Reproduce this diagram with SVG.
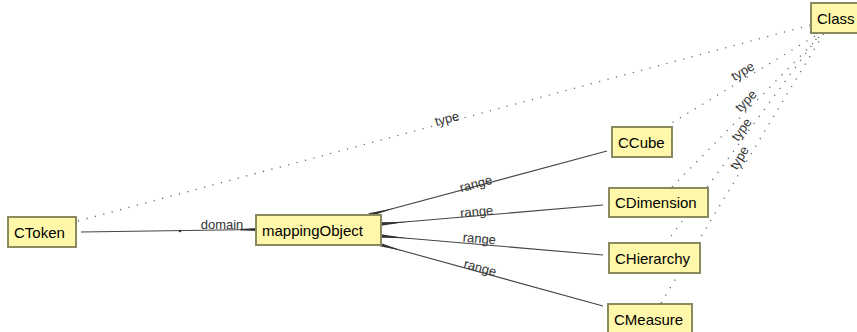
<svg xmlns="http://www.w3.org/2000/svg" width="857" height="332" viewBox="0 0 857 332">
<style>
.node rect{fill:#fff8aa;stroke:#8a8a5e;stroke-width:2}
.node text{font-family:"Liberation Sans",Arial,sans-serif;font-size:15px;fill:#000}
.edge{stroke:#444;stroke-width:1.1;fill:none}
.dot{stroke:#666;stroke-width:1.3;fill:none;stroke-dasharray:1.2 7.5}
.wedge{fill:#333}
.lbl{font-family:"Liberation Sans",Arial,sans-serif;font-size:13px;fill:#333;text-anchor:middle}
</style>
<rect width="857" height="332" fill="#fff"/>
<g id="connectors">
  <line class="dot" x1="78" y1="221" x2="811" y2="25"/>
  <line class="dot" x1="665" y1="127" x2="820" y2="33"/>
  <line class="dot" x1="672" y1="187" x2="823" y2="33"/>
  <line class="dot" x1="666" y1="243" x2="820" y2="34"/>
  <line class="dot" x1="661" y1="303" x2="824" y2="33"/>
  <line class="edge" x1="81" y1="232" x2="256" y2="229.5"/>
  <circle cx="180" cy="231" r="1.3" fill="#333"/>
  <polygon class="wedge" transform="translate(256,229.5) rotate(179.2)" points="0,-1.6 16,-0.6 16,0.6 0,1.6"/>
  <line class="edge" x1="369" y1="215" x2="607" y2="151"/>
  <line class="edge" x1="381" y1="224" x2="603" y2="205"/>
  <line class="edge" x1="381" y1="236" x2="603" y2="255"/>
  <line class="edge" x1="378" y1="244" x2="603" y2="306"/>
  <polygon class="wedge" transform="translate(369,215) rotate(-15.05)" points="0,-1.8 26,0 0,1.8"/>
  <polygon class="wedge" transform="translate(381,224) rotate(-4.9)" points="0,-1.8 26,0 0,1.8"/>
  <polygon class="wedge" transform="translate(381,236) rotate(4.9)" points="0,-1.8 26,0 0,1.8"/>
  <polygon class="wedge" transform="translate(378,244) rotate(15.4)" points="0,-1.8 26,0 0,1.8"/>
  <text class="lbl" x="222" y="229">domain</text>
  <text class="lbl" transform="translate(477,188) rotate(-15)">range</text>
  <text class="lbl" transform="translate(477,216) rotate(-4.9)">range</text>
  <text class="lbl" transform="translate(479,243) rotate(4.9)">range</text>
  <text class="lbl" transform="translate(479,272) rotate(15.4)">range</text>
  <text class="lbl" transform="translate(448,123) rotate(-15)">type</text>
  <text class="lbl" transform="translate(745,75) rotate(-31)">type</text>
  <text class="lbl" transform="translate(749,104) rotate(-46)">type</text>
  <text class="lbl" transform="translate(745,132) rotate(-54)">type</text>
  <text class="lbl" transform="translate(743,160) rotate(-59)">type</text>
</g>
<g id="Class" class="node"><rect x="811" y="3" width="48" height="30"/><text x="817" y="24">Class</text></g>
<g id="CCube" class="node"><rect x="612" y="127" width="60" height="30"/><text x="618" y="148">CCube</text></g>
<g id="CDimension" class="node"><rect x="609" y="188" width="99" height="29"/><text x="615" y="208">CDimension</text></g>
<g id="CHierarchy" class="node"><rect x="609" y="243" width="91" height="30"/><text x="615" y="264">CHierarchy</text></g>
<g id="CMeasure" class="node"><rect x="608" y="304" width="84" height="30"/><text x="614" y="325">CMeasure</text></g>
<g id="CToken" class="node"><rect x="8" y="217" width="68" height="30"/><text x="14" y="238">CToken</text></g>
<g id="mappingObject" class="node"><rect x="256" y="215" width="125" height="30"/><text x="262" y="236">mappingObject</text></g>
</svg>
